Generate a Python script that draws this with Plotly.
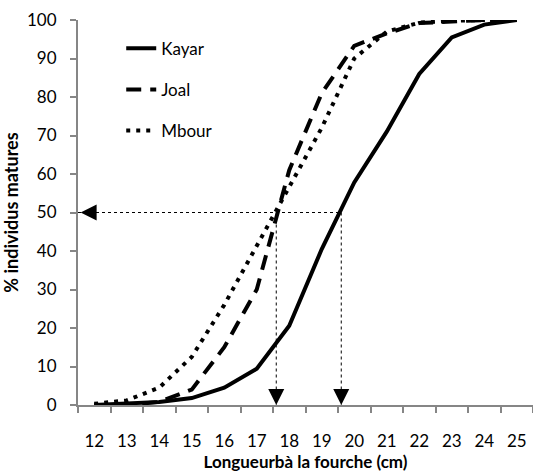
import plotly.graph_objects as go

lengths = [12, 13, 14, 15, 16, 17, 18, 19, 20, 21, 22, 23, 24, 25]
kayar = [0, 0.3, 0.8, 1.8, 4.5, 9.4, 20.6, 40.5, 57.8, 71, 86, 95.5, 98.8, 100]
joal = [0, 0, 0.8, 4, 15, 30, 61, 81, 93.3, 96.5, 99.2, 99.6, 100, 100]
mbour = [0.3, 1.2, 4.5, 12.5, 26, 41.5, 56.5, 72, 90, 97, 99.3, 99.8, 100, 100]
l50_joal_mbour = 17.6
l50_kayar = 19.6
y_ticks = list(range(0, 101, 10))

FONT = "Lato"
x_cats = [str(v) for v in lengths]


def idx(L):
    return L - lengths[0]


fig = go.Figure()
fig.add_trace(go.Scatter(x=x_cats, y=kayar, name="Kayar", mode="lines",
                         line=dict(color="black", width=4), legendgroup="a"))
fig.add_trace(go.Scatter(x=x_cats, y=joal, name="Joal", mode="lines",
                         line=dict(color="black", width=4, dash="15px,9px"), legendgroup="b"))
fig.add_trace(go.Scatter(x=x_cats, y=mbour, name="Mbour", mode="lines",
                         line=dict(color="black", width=4, dash="4px,6px"), legendgroup="c"))

dot = dict(color="black", width=1, dash="dot")
x_left = -0.5
fig.add_shape(type="line", x0=x_left, x1=idx(l50_kayar), y0=50, y1=50, line=dot, layer="below")
fig.add_shape(type="line", x0=idx(l50_joal_mbour), x1=idx(l50_joal_mbour), y0=50, y1=0, line=dot, layer="below")
fig.add_shape(type="line", x0=idx(l50_kayar), x1=idx(l50_kayar), y0=50, y1=0, line=dot, layer="below")

arrow = dict(showarrow=True, arrowhead=2, arrowsize=3.2, arrowwidth=1, arrowcolor="black",
             standoff=0, text="", xref="x", yref="y")
fig.add_annotation(x=x_left + 0.08, y=50, ax=16, ay=0, **arrow)
fig.add_annotation(x=idx(l50_joal_mbour), y=0, ax=0, ay=-16, **arrow)
fig.add_annotation(x=idx(l50_kayar), y=0, ax=0, ay=-16, **arrow)

axis_color = "#868686"
fig.update_layout(
    width=533, height=472,
    margin=dict(l=78, r=0, t=20, b=67),
    paper_bgcolor="white", plot_bgcolor="white",
    font=dict(family=FONT, size=17, color="black"),
    showlegend=True,
    legend=dict(x=0.095, y=0.972, xanchor="left", yanchor="top", bgcolor="rgba(0,0,0,0)",
                font=dict(size=17), tracegroupgap=16, traceorder="grouped"),
    xaxis=dict(type="category", tickson="boundaries", ticks="outside", ticklen=6,
               tickcolor=axis_color, tickwidth=1.5, showline=True, linecolor=axis_color,
               linewidth=2, showgrid=False, zeroline=False, range=[-0.5, 13.5],
               ticklabelstandoff=20,
               title=dict(text="<b>Longueurbà la fourche (cm)</b>", font=dict(size=17), standoff=3)),
    yaxis=dict(range=[0, 100], tickvals=y_ticks, ticks="outside", ticklen=6,
               tickcolor=axis_color, tickwidth=1.5, showline=True, linecolor=axis_color,
               linewidth=2, showgrid=False, zeroline=False, ticklabelstandoff=10,
               title=dict(text="<b>% individus matures</b>", font=dict(size=18), standoff=4)),
)

fig.write_html("out.html")
